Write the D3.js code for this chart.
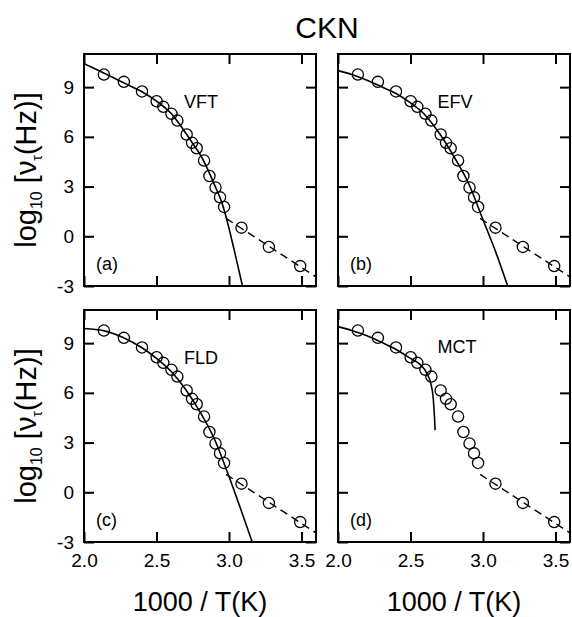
<!DOCTYPE html>
<html>
  <head>
    <meta charset="utf-8">
    <script src="https://cdn.jsdelivr.net/npm/d3@7"></script>
    <style>
      body { margin: 0; background: #fff; }
      text { font-family: "Liberation Sans", Arial, sans-serif; fill: #000; }
    </style>
  </head>
  <body>
    <script type="text/javascript">
      // measured relaxation rates (same data in every panel)
      var invT  = [2.137, 2.275, 2.40, 2.501, 2.547, 2.603, 2.644, 2.708, 2.745, 2.777, 2.828, 2.865, 2.907, 2.938, 2.966, 3.086, 3.275, 3.491];
      var logNu = [9.76, 9.32, 8.74, 8.15, 7.81, 7.39, 6.98, 6.14, 5.64, 5.31, 4.57, 3.64, 2.94, 2.35, 1.77, 0.52, -0.64, -1.80];

      // fit curves
      var vftX = [2.0, 2.1, 2.2, 2.3, 2.4, 2.5, 2.6, 2.7, 2.75, 2.8, 2.85, 2.9, 2.95, 2.985, 3.035, 3.093];
      var vftY = [10.42, 10.0, 9.58, 9.15, 8.72, 8.15, 7.42, 6.25, 5.6, 4.95, 4.1, 3.1, 2.05, 1.0, -0.8, -3.0];
      var efvX = [2.0, 2.1, 2.2, 2.3, 2.4, 2.5, 2.6, 2.7, 2.8, 2.9, 3.0, 3.09, 3.17];
      var efvY = [10.0, 9.75, 9.42, 9.02, 8.62, 8.05, 7.32, 6.2, 4.8, 3.2, 1.0, -1.0, -3.0];
      var fldX = [2.0, 2.14, 2.28, 2.4, 2.5, 2.6, 2.7, 2.8, 2.9, 3.0, 3.08, 3.16];
      var fldY = [9.88, 9.74, 9.3, 8.72, 8.08, 7.3, 6.22, 4.85, 3.2, 0.95, -1.0, -3.0];
      var mctX = [2.0, 2.1, 2.2, 2.3, 2.4, 2.5, 2.56, 2.614, 2.64, 2.656, 2.664, 2.67];
      var mctY = [10.0, 9.75, 9.45, 9.05, 8.62, 8.08, 7.76, 7.16, 6.56, 5.75, 4.75, 3.75];

      // low temperature Arrhenius line (dashed)
      var arrX = [2.98, 3.6];
      var arrY = [1.08, -2.45];

      var panelNames = ["VFT", "EFV", "FLD", "MCT"];
      var panelTags = ["(a)", "(b)", "(c)", "(d)"];
      var xTicks = [2.0, 2.5, 3.0, 3.5];
      var yTicks = [-3, 0, 3, 6, 9];

      var fitsX = [vftX, efvX, fldX, mctX];
      var fitsY = [vftY, efvY, fldY, mctY];

      var W = 572, H = 617;
      var pw = 232, ph = 232;
      var lefts = [84, 338];
      var tops = [54, 310];

      var svg = d3.select("body").append("svg")
        .attr("width", W)
        .attr("height", H);

      var x = d3.scaleLinear().domain([2.0, 3.6]).range([0, pw]);
      var y = d3.scaleLinear().domain([-3, 11]).range([ph, 0]);

      var line = d3.line()
        .x(function(d) { return x(d[0]); })
        .y(function(d) { return y(d[1]); })
        .curve(d3.curveMonotoneX);

      var pts = invT.map(function(v, i) { return [v, logNu[i]]; });
      var none = function() { return ""; };

      svg.append("defs").append("clipPath").attr("id", "clip")
        .append("rect").attr("width", pw).attr("height", ph);

      for (var p = 0; p < 4; p++) {
        var col = p % 2, row = Math.floor(p / 2);
        var g = svg.append("g")
          .attr("transform", "translate(" + lefts[col] + "," + tops[row] + ")");

        // ticks on all four sides, pointing inward
        var axB = d3.axisBottom(x).tickValues(xTicks).tickSizeInner(-10).tickSizeOuter(0).tickPadding(12)
          .tickFormat(row == 1 ? function(d) { return d.toFixed(1); } : none);
        var axT = d3.axisTop(x).tickValues(xTicks).tickSizeInner(-10).tickSizeOuter(0).tickFormat(none);
        var axL = d3.axisLeft(y).tickValues(yTicks).tickSizeInner(-10).tickSizeOuter(0).tickPadding(10)
          .tickFormat(col == 0 ? function(d) { return String(d); } : none);
        var axR = d3.axisRight(y).tickValues(yTicks).tickSizeInner(-10).tickSizeOuter(0).tickFormat(none);

        [[axB, "translate(0," + ph + ")"], [axT, null], [axL, null], [axR, "translate(" + pw + ",0)"]]
          .forEach(function(a) {
            var ax = g.append("g").attr("transform", a[1]).call(a[0]);
            ax.select(".domain").remove();
            ax.selectAll("line").attr("stroke", "#000").attr("stroke-width", 2);
            ax.selectAll("text").style("font-size", "19px").style("font-family", "Liberation Sans, Arial, sans-serif");
          });

        var plot = g.append("g").attr("clip-path", "url(#clip)");

        plot.append("path")
          .datum(fitsX[p].map(function(v, i) { return [v, fitsY[p][i]]; }))
          .attr("d", line)
          .attr("fill", "none")
          .attr("stroke", "#000")
          .attr("stroke-width", 1.6);

        plot.append("path")
          .datum(arrX.map(function(v, i) { return [v, arrY[i]]; }))
          .attr("d", d3.line().x(function(d) { return x(d[0]); }).y(function(d) { return y(d[1]); }))
          .attr("fill", "none")
          .attr("stroke", "#000")
          .attr("stroke-width", 1.4)
          .attr("stroke-dasharray", "8,5");

        plot.selectAll(".pt")
          .data(pts)
          .enter().append("circle")
          .attr("class", "pt")
          .attr("cx", function(d) { return x(d[0]); })
          .attr("cy", function(d) { return y(d[1]); })
          .attr("r", 5.6)
          .attr("fill", "none")
          .attr("stroke", "#000")
          .attr("stroke-width", 1.3);

        g.append("rect")
          .attr("width", pw).attr("height", ph)
          .attr("fill", "none").attr("stroke", "#000").attr("stroke-width", 2);

        g.append("text")
          .attr("x", p == 3 ? 119 : 117)
          .attr("y", p == 3 ? 43 : 54)
          .attr("text-anchor", "middle")
          .style("font-size", "18px")
          .text(panelNames[p]);

        g.append("text")
          .attr("x", 12)
          .attr("y", 216)
          .style("font-size", "18px")
          .text(panelTags[p]);
      }

      // titles
      svg.append("text")
        .attr("x", (84 + 570) / 2).attr("y", 38)
        .attr("text-anchor", "middle")
        .style("font-size", "30px")
        .text("CKN");

      lefts.forEach(function(l) {
        svg.append("text")
          .attr("x", l + pw / 2).attr("y", 611)
          .attr("text-anchor", "middle")
          .style("font-size", "27px")
          .text("1000 / T(K)");
      });

      tops.forEach(function(t) {
        var yt = svg.append("text")
          .attr("transform", "translate(36," + (t + ph / 2) + ") rotate(-90)")
          .attr("text-anchor", "middle")
          .style("font-size", "29px");
        yt.append("tspan").text("log");
        yt.append("tspan").attr("dy", 6).style("font-size", "16px").text("10");
        yt.append("tspan").attr("dy", -6).text(" [\u03bd");
        yt.append("tspan").attr("dy", 6).style("font-size", "14px").text("\u03c4");
        yt.append("tspan").attr("dy", -6).text("(Hz)]");
      });
    </script>
  </body>
</html>
